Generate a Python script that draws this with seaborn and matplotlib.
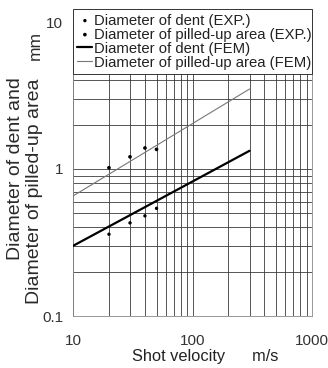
import numpy as np
import pandas as pd
import matplotlib
matplotlib.use("Agg")
import matplotlib.pyplot as plt
import seaborn as sns

exp_velocity = [20, 30, 40, 50]
exp_dent = [0.36, 0.43, 0.48, 0.54]
exp_pilled = [1.02, 1.21, 1.39, 1.36]

# FEM results, straight lines on log-log axes
fem_velocity = [10, 300]
fem_dent = [0.30, 1.33]
fem_pilled = [0.655, 3.5]

x_ticks = [10, 100, 1000]
x_tick_labels = ["10", "100", "1000"]
y_ticks = [0.1, 1, 10]
y_tick_labels = ["0.1", "1", "10"]

sns.set_style("white")
plt.rcParams["font.family"] = ["Liberation Sans", "DejaVu Sans"]

W, H = 328, 368
fig = plt.figure(figsize=(W / 100, H / 100), dpi=100)
ax = fig.add_axes([73 / W, 1 - 316 / H, (312 - 73) / W, (316 - 22) / H])

exp = pd.DataFrame({"v": exp_velocity, "dent": exp_dent, "pilled": exp_pilled})
fem = pd.DataFrame({"v": fem_velocity, "dent": fem_dent, "pilled": fem_pilled})

sns.scatterplot(data=exp, x="v", y="dent", ax=ax, color="black", s=6,
                edgecolor="none", label="Diameter of dent (EXP.)", zorder=4)
sns.scatterplot(data=exp, x="v", y="pilled", ax=ax, color="black", s=7,
                edgecolor="none", label="Diameter of pilled-up area (EXP.)", zorder=4)
sns.lineplot(data=fem, x="v", y="dent", ax=ax, color="black", lw=1.6,
             label="Diameter of dent (FEM)", zorder=3)
sns.lineplot(data=fem, x="v", y="pilled", ax=ax, color="#777777", lw=0.8,
             label="Diameter of pilled-up area (FEM)", zorder=3)

ax.set_xscale("log")
ax.set_yscale("log")
ax.set_xlim(10, 1000)
ax.set_ylim(0.1, 10)

ax.grid(True, which="both", color="#3a3a3a", lw=0.6)
for s in ax.spines.values():
    s.set_color("#888888")
    s.set_linewidth(0.6)

ax.set_xticks(x_ticks)
ax.set_xticklabels(x_tick_labels)
ax.set_yticks(y_ticks)
ax.set_yticklabels(y_tick_labels)
ax.tick_params(which="both", length=0)
ax.tick_params(axis="x", pad=13, labelsize=11, labelcolor="#333333")
ax.tick_params(axis="y", pad=7, labelsize=11, labelcolor="#333333")

ax.set_xlabel("Shot velocity      m/s", fontsize=11.8, color="#222222")
ax.xaxis.set_label_coords((205 - 73) / 239, -(357 - 316) / 294)
ax.xaxis.label.set_va("center")
ax.set_ylabel("")

leg = ax.legend(loc="upper left", bbox_to_anchor=(0, 1.044, 1, 0), mode="expand",
                borderaxespad=0, fontsize=10.7, labelspacing=0.0,
                handlelength=1.0, handletextpad=0.1, borderpad=0.3,
                frameon=True, fancybox=False)
leg.get_frame().set_edgecolor("#333333")
leg.get_frame().set_linewidth(0.7)
leg.get_frame().set_facecolor("white")
leg.get_frame().set_alpha(1)
for t in leg.get_texts():
    t.set_color("#222222")

fig.text(16 / W, 1 - 169 / H, "Diameter of dent and", rotation=90,
         ha="center", va="center", fontsize=14, color="#2a2a2a")
fig.text(35 / W, 1 - 191 / H, "Diameter of pilled-up area", rotation=90,
         ha="center", va="center", fontsize=14, color="#2a2a2a")
fig.text(35 / W, 1 - 46 / H, "mm", rotation=90,
         ha="center", va="center", fontsize=12.5, color="#2a2a2a")

fig.savefig("out.png", dpi=100)
